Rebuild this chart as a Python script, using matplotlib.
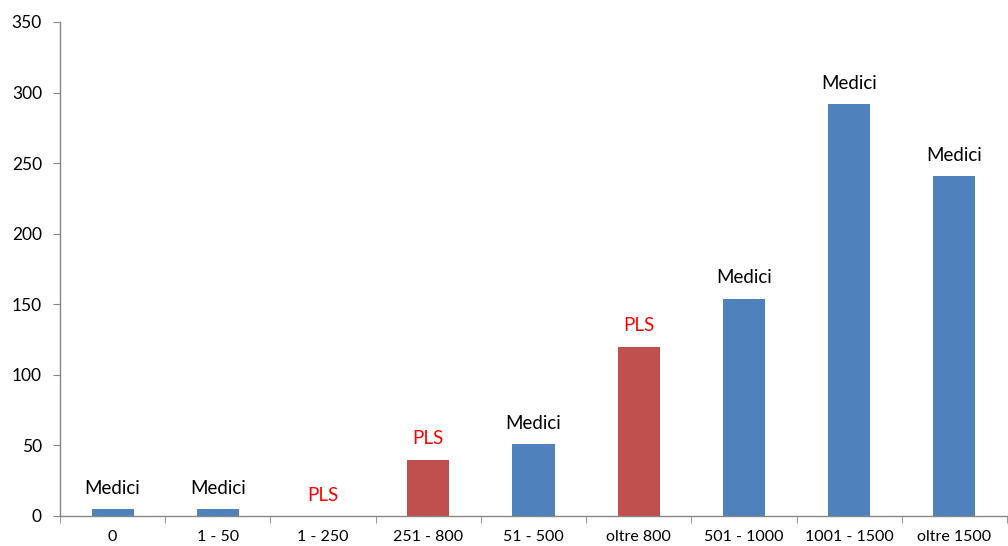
import matplotlib
matplotlib.use("Agg")
import matplotlib.pyplot as plt

# data
categories = ["0", "1 - 50", "1 - 250", "251 - 800", "51 - 500",
              "oltre 800", "501 - 1000", "1001 - 1500", "oltre 1500"]
values = [5, 5, 0, 40, 51, 120, 154, 292, 241]
groups = ["Medici", "Medici", "PLS", "PLS", "Medici",
          "PLS", "Medici", "Medici", "Medici"]

bar_colors = {"Medici": "#4F81BD", "PLS": "#C0504D"}
text_colors = {"Medici": "black", "PLS": "#FF0000"}
axis_color = "#868686"

plt.rcParams["font.family"] = ["Lato", "DejaVu Sans"]

fig = plt.figure(figsize=(10.08, 5.46), dpi=100)
ax = fig.add_axes([60 / 1008, 1 - 516 / 546, 947 / 1008, 494 / 546])

x = list(range(len(categories)))
ax.bar(x, values, width=0.4, color=[bar_colors[g] for g in groups], zorder=2)

for xi, v, g in zip(x, values, groups):
    ax.annotate(g, (xi, v), xytext=(0, 15), textcoords="offset points",
                ha="center", va="center", fontsize=13.5, color=text_colors[g])

ax.set_xlim(-0.5, len(categories) - 0.5)
ax.set_ylim(0, 350)
ax.set_yticks(range(0, 351, 50))

# category labels centred, tick marks between categories
ax.set_xticks(x)
ax.set_xticklabels(categories, fontsize=11.5)
ax.tick_params(axis="x", length=0, pad=10)
ax.set_xticks([i - 0.5 for i in range(len(categories) + 1)], minor=True)
ax.tick_params(axis="x", which="minor", length=5, color=axis_color, direction="out")
ax.tick_params(axis="y", length=5, color=axis_color, labelsize=12.5, pad=8)

for side in ["top", "right"]:
    ax.spines[side].set_visible(False)
for side in ["left", "bottom"]:
    ax.spines[side].set_color(axis_color)
    ax.spines[side].set_linewidth(1)

fig.savefig("out.png", dpi=100)
